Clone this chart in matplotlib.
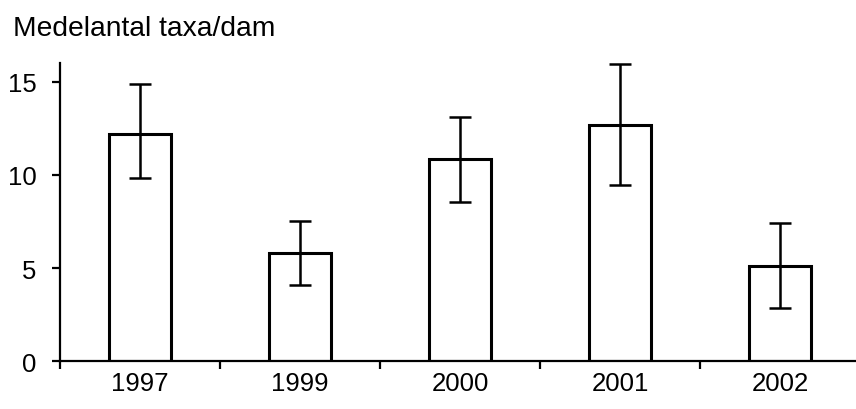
import matplotlib
matplotlib.use("Agg")
import matplotlib.pyplot as plt
import numpy as np

# data
years = ["1997", "1999", "2000", "2001", "2002"]
mean_taxa = [12.2, 5.8, 10.85, 12.65, 5.1]
err_low = [2.35, 1.7, 2.3, 3.2, 2.25]
err_high = [2.65, 1.75, 2.25, 3.3, 2.3]
y_ticks = [0, 5, 10, 15]

plt.rcParams['font.family'] = ['Liberation Sans', 'DejaVu Sans']

fig = plt.figure(figsize=(8.56, 4.10), dpi=100)
ax = fig.add_axes([60 / 856, 47.7 / 410, 796 / 856, 298.3 / 410])

x = np.arange(len(years))
ax.bar(x, mean_taxa, width=0.39, color='white', edgecolor='black', linewidth=2.2, zorder=2)
ax.errorbar(x, mean_taxa, yerr=[err_low, err_high], fmt='none', ecolor='black',
            elinewidth=1.8, capsize=8, capthick=1.8, zorder=3)

ax.set_xlim(-0.5, 4.475)
ax.set_ylim(0, 16)

ax.spines['top'].set_visible(False)
ax.spines['right'].set_visible(False)
ax.spines['left'].set_linewidth(1.6)
ax.spines['bottom'].set_linewidth(1.6)
ax.spines['bottom'].set_zorder(4)

ax.set_yticks(y_ticks)
ax.tick_params(axis='y', direction='out', length=6, width=1.6, pad=11, labelsize=18.5)

# ticks between categories, labels at the centres
ax.set_xticks(np.arange(len(years)) - 0.5)
ax.set_xticklabels([])
ax.set_xticks(x, minor=True)
ax.set_xticklabels(years, minor=True)
ax.tick_params(axis='x', which='major', direction='out', length=6, width=1.6)
ax.tick_params(axis='x', which='minor', length=0, pad=7, labelsize=18.5)

fig.text(13 / 856, 1 - 29 / 410, "Medelantal taxa/dam", fontsize=20.3, va='center', ha='left')

fig.savefig("out.png", dpi=100)
